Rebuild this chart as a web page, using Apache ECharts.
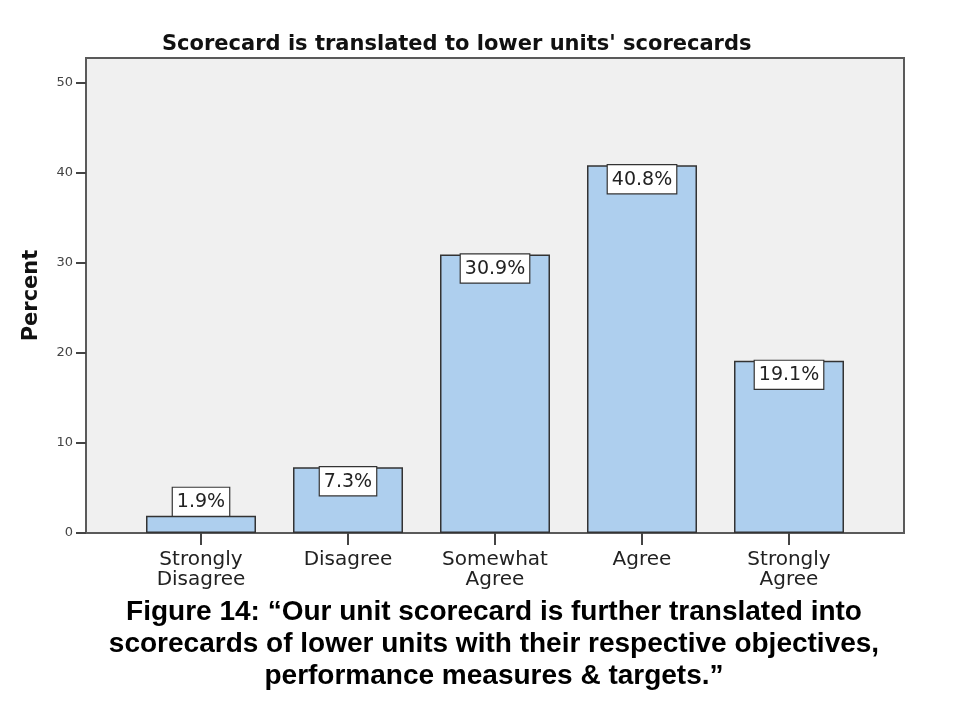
<!DOCTYPE html>
<html>
<head>
<meta charset="utf-8">
<script src="https://cdn.jsdelivr.net/npm/echarts@6/dist/echarts.min.js"></script>
<style>html,body{margin:0;padding:0;background:#fff;}#c{width:975px;height:719px;}</style>
</head>
<body>
<div id="c"></div>
<script>
const categories = ['Strongly\nDisagree', 'Disagree', 'Somewhat\nAgree', 'Agree', 'Strongly\nAgree'];
const percents = [1.9, 7.3, 30.9, 40.8, 19.1];
const yTicks = [0, 10, 20, 30, 40, 50];
const chartTitle = "Scorecard is translated to lower units' scorecards";
const caption = 'Figure 14: \u201cOur unit scorecard is further translated into\nscorecards of lower units with their respective objectives,\nperformance measures & targets.\u201d';

const YMAX = 52.7;
const chart = echarts.init(document.getElementById('c'), null, {renderer: 'canvas'});

const barData = percents.map((v, i) => ({
  value: v,
  label: { position: v < 5 ? 'top' : 'insideTop', distance: 0 }
}));

chart.setOption({
  animation: false,
  backgroundColor: '#ffffff',
  title: [{
    text: chartTitle,
    left: 157, top: 29,
    textStyle: { fontFamily: 'DejaVu Sans', fontWeight: 'bold', fontSize: 21, color: '#111' }
  }],
  grid: [
    { left: 86, top: 58, width: 818, height: 475, show: true, backgroundColor: '#f0f0f0', borderColor: '#5a5a5a', borderWidth: 2 },
    { left: 127.5, top: 58, width: 735, height: 475 }
  ],
  xAxis: [
    { gridIndex: 0, type: 'value', min: 0, max: 1, show: false },
    { gridIndex: 1, type: 'category', data: categories, boundaryGap: true,
      axisLine: { show: false },
      axisTick: { show: true, alignWithLabel: true, length: 12, lineStyle: { color: '#444', width: 2 } },
      axisLabel: { margin: 17, fontFamily: 'DejaVu Sans', fontSize: 20, lineHeight: 20, color: '#222' }
    }
  ],
  yAxis: [
    { gridIndex: 0, type: 'value', min: 0, max: YMAX, interval: 10,
      name: 'Percent', nameLocation: 'middle', nameGap: 44,
      nameTextStyle: { fontFamily: 'DejaVu Sans', fontWeight: 'bold', fontSize: 21, color: '#111' },
      axisLine: { show: false },
      splitLine: { show: false },
      axisTick: { show: true, length: 10, customValues: yTicks, lineStyle: { color: '#444', width: 2 } },
      axisLabel: { customValues: yTicks, margin: 13, fontFamily: 'DejaVu Sans', fontSize: 13, color: '#444' }
    },
    { gridIndex: 1, type: 'value', min: 0, max: YMAX, show: false, splitLine: { show: false } }
  ],
  series: [{
    type: 'bar',
    xAxisIndex: 1, yAxisIndex: 1,
    data: barData,
    barWidth: 110,
    itemStyle: { color: '#aecfee', borderColor: '#333', borderWidth: 1.5 },
    label: {
      show: true,
      formatter: p => p.value + '%',
      fontFamily: 'DejaVu Sans', fontSize: 19, color: '#222',
      backgroundColor: '#ffffff', borderColor: '#333', borderWidth: 1.2,
      padding: [5, 4, 4, 4]
    }
  }],
  graphic: [{
    type: 'text', x: 494, y: 596,
    style: {
      text: caption, textAlign: 'center', textVerticalAlign: 'top',
      font: 'bold 28px "Liberation Sans", Arial, sans-serif',
      lineHeight: 32, fill: '#000'
    }
  }]
});
</script>
</body>
</html>
